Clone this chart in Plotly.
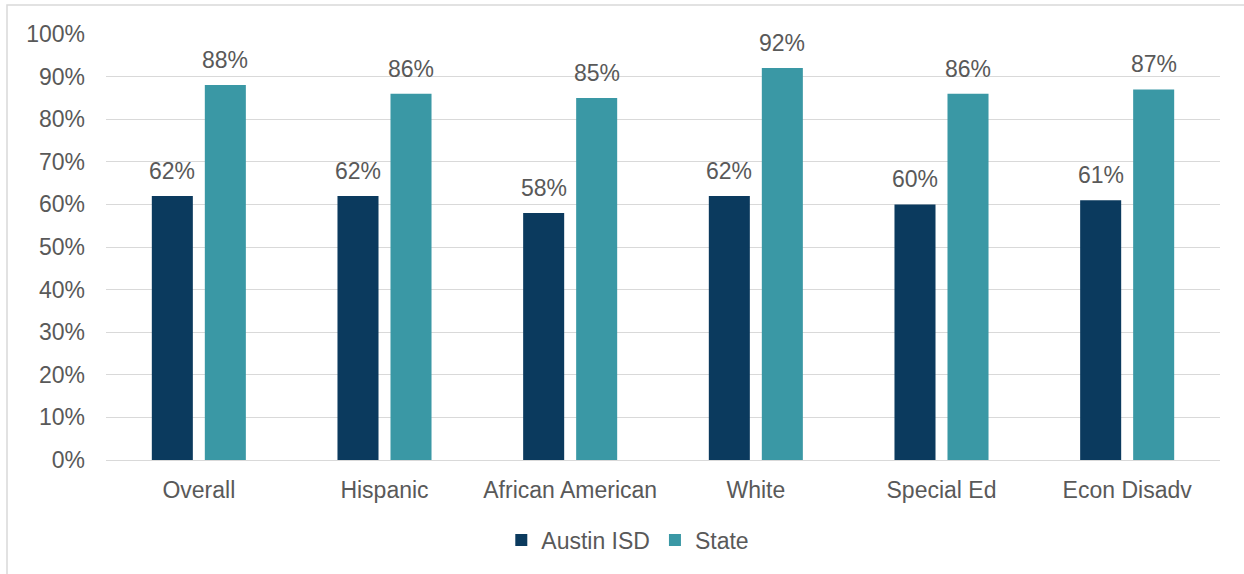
import plotly.graph_objects as go

categories = ["Overall", "Hispanic", "African American", "White", "Special Ed", "Econ Disadv"]
austin_isd = [62, 62, 58, 62, 60, 61]
state = [88, 86, 85, 92, 86, 87]
y_ticks = list(range(0, 101, 10))
y_tick_labels = [f"{v}%" for v in y_ticks]

FONT = "Liberation Sans, Arial, sans-serif"
TXT = "#595959"
FS = 23

fig = go.Figure()
fig.add_trace(go.Bar(
    name="Austin ISD", x=categories, y=austin_isd,
    marker=dict(color="#0B3A5E", line=dict(width=0)),
))
fig.add_trace(go.Bar(
    name="State", x=categories, y=state,
    marker=dict(color="#3A98A5", line=dict(width=0)),
))

L, R, T, B = 106, 24, 34, 114
W, H = 1244, 574
pw = W - L - R
ph = H - T - B
slot = 53  # pixel distance between bar centres within a group

annotations = []
for series, shift in ((austin_isd, -slot / 2), (state, slot / 2)):
    for c, v in zip(categories, series):
        annotations.append(dict(
            x=c, y=v, xref="x", yref="y", text=f"{v}%", showarrow=False,
            xshift=shift, yshift=10, yanchor="bottom", xanchor="center",
            font=dict(size=FS, color=TXT, family=FONT),
        ))

fig.update_layout(
    width=W, height=H,
    margin=dict(l=L, r=R, t=T, b=B, pad=0),
    paper_bgcolor="white", plot_bgcolor="white",
    barmode="group", bargap=0.429, bargroupgap=0.226,
    font=dict(family=FONT, size=FS, color=TXT),
    showlegend=True,
    legend=dict(orientation="h", x=0.4684, xanchor="center", y=(460 - 540) / ph,
                yanchor="middle", font=dict(size=FS, color=TXT, family=FONT),
                itemwidth=30, traceorder="normal"),
    xaxis=dict(showgrid=False, showline=False, ticks="", tickfont=dict(size=FS, color=TXT),
               ticklabelstandoff=14),
    yaxis=dict(range=[0, 100], tickvals=y_ticks, ticktext=y_tick_labels,
               showgrid=True, gridcolor="#D9D9D9", gridwidth=1,
               zeroline=True, zerolinecolor="#D9D9D9", zerolinewidth=1,
               showline=False, ticks="", ticklen=0, tickfont=dict(size=FS, color=TXT),
               ticklabelstandoff=20),
    annotations=annotations,
    shapes=[dict(type="rect", xref="paper", yref="paper",
                 x0=(7 - L) / pw, x1=(1260 - L) / pw,
                 y0=(460 - 590) / ph, y1=1 + (T - 5) / ph,
                 line=dict(color="#D9D9D9", width=1.5), fillcolor="rgba(0,0,0,0)",
                 layer="below")],
)

fig.write_html("out.html")
